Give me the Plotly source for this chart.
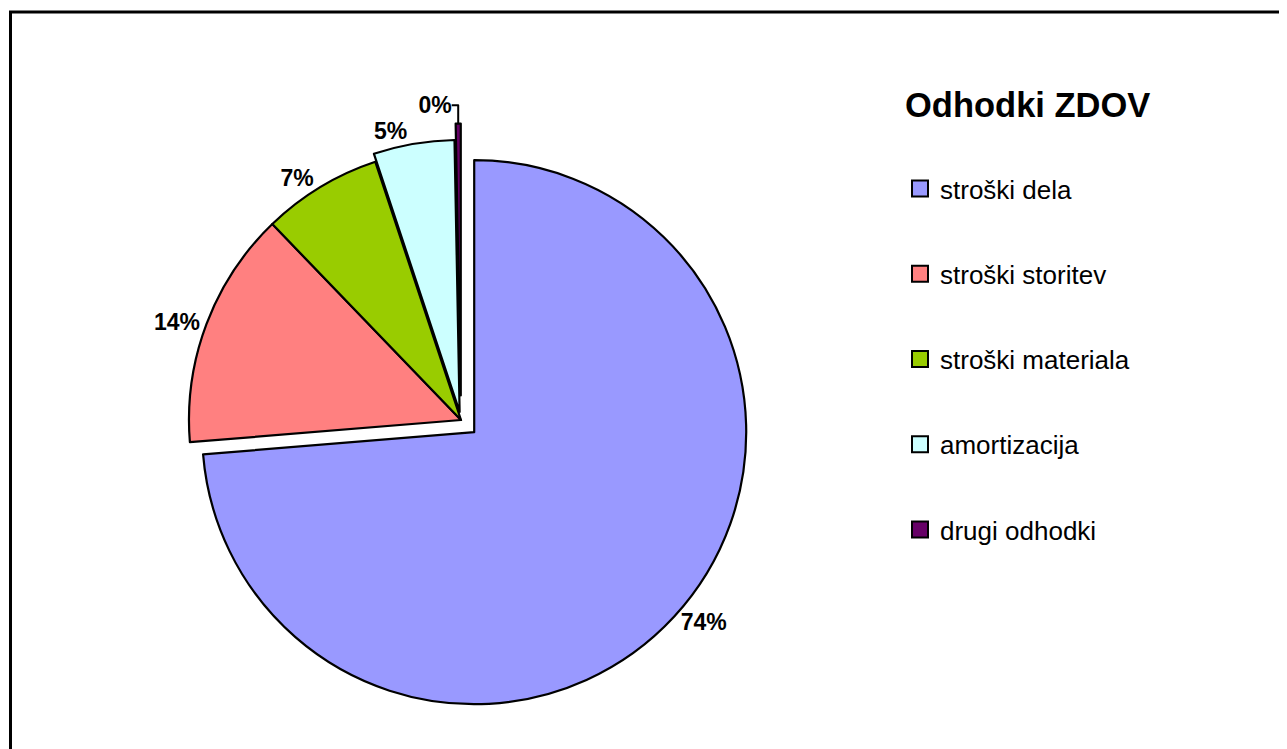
import plotly.graph_objects as go

categories = ["stroški dela", "stroški storitev", "stroški materiala", "amortizacija", "drugi odhodki"]
values = [73.7, 14.1, 7.1, 4.8, 0.3]
colors = ["#9999FF", "#FF8080", "#99CC00", "#CCFFFF", "#660066"]
pulls = [0.066, 0.0, 0.0, 0.03, 0.09]
title_text = "Odhodki ZDOV"

# page has an 8px body margin; work in page pixels and convert
OFF = 8
W, H = 1287 - OFF, 749 - OFF
def px(x): return (x - OFF) / W
def py(y): return 1 - (y - OFF) / H

cx, cy = 461, 420
half = 296.5

fig = go.Figure()
fig.add_trace(go.Pie(
    labels=categories,
    values=values,
    sort=False,
    direction="clockwise",
    rotation=0,
    pull=pulls,
    marker=dict(colors=colors, line=dict(color="black", width=2.2)),
    textposition="outside",
    texttemplate="%{percent:.0%}",
    outsidetextfont=dict(family="Arial, Liberation Sans, sans-serif", size=23, color="black", weight="bold"),
    showlegend=False,
    automargin=False,
    domain=dict(x=[px(cx - half), px(cx + half)], y=[py(cy + half), py(cy - half)]),
    hoverinfo="label+percent",
))

for name, col in zip(categories, colors):
    fig.add_trace(go.Scatter(
        x=[None], y=[None], mode="markers", name=name, legendgroup=name,
        marker=dict(symbol="square", size=16, color=col, line=dict(color="black", width=2)),
    ))

fig.update_layout(
    width=W, height=H,
    margin=dict(l=0, r=0, t=0, b=0),
    paper_bgcolor="white", plot_bgcolor="white",
    xaxis=dict(visible=False), yaxis=dict(visible=False),
    title=dict(text="<b>" + title_text + "</b>", x=px(905), xanchor="left", y=py(105), yanchor="middle",
               font=dict(family="Arial, Liberation Sans, sans-serif", size=34.5, color="black")),
    legend=dict(x=px(900), xanchor="left", y=py(165), yanchor="top",
                font=dict(family="Arial, Liberation Sans, sans-serif", size=26, color="black"),
                tracegroupgap=48.5, bgcolor="rgba(0,0,0,0)", itemclick=False),
    shapes=[dict(type="rect", xref="paper", yref="paper", x0=px(10.5), x1=1.05, y0=-0.05, y1=py(12),
                 line=dict(color="black", width=3), fillcolor="rgba(0,0,0,0)", layer="above")],
)

fig.write_html("out.html")
